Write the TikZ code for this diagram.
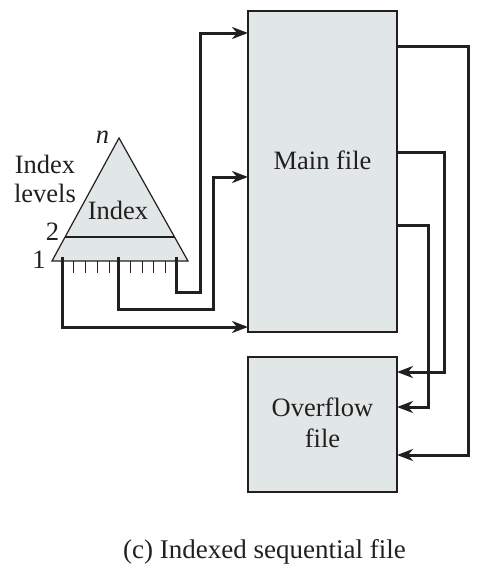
\documentclass[tikz,border=0pt]{standalone}
\usepackage{fontspec}
\setmainfont{Liberation Serif}
\usetikzlibrary{arrows.meta}
\definecolor{boxfill}{HTML}{E1E7E7}
\definecolor{ink}{HTML}{231F20}
\tikzset{
  filebox/.style={draw=ink, fill=boxfill, line width=1.5pt, inner sep=0pt, outer sep=0pt, anchor=north west},
  conn/.style={draw=ink, line width=3pt, -{Stealth[length=16pt,width=12pt,inset=5pt]}},
  plainconn/.style={draw=ink, line width=3pt},
  tick/.style={draw=ink, line width=1pt},
  lbl/.style={font=\fontsize{26.5}{30}\selectfont, inner sep=0pt, text=ink},
}
\begin{document}
\begin{tikzpicture}[x=1pt,y=-1pt]
\useasboundingbox (0,0) rectangle (494,570);
% boxes
\node[filebox, minimum width=149pt, minimum height=321pt] (main) at (248,11) {};
\node[filebox, minimum width=149pt, minimum height=135pt] (over) at (248,357) {};
\node[lbl, anchor=base] (maintxt) at (322.5,169) {Main file};
\node[lbl, align=center, font=\fontsize{26.5}{31}\selectfont] (overtxt) at (322.5,423) {Overflow\\file};
% triangle
\coordinate (apex) at (119,138);
\coordinate (bl) at (52,261);
\coordinate (br) at (188,261);
\filldraw[fill=boxfill, draw=ink, line width=1.2pt] (apex) -- (bl) -- (br) -- cycle;
\coordinate (l2a) at (65,237);
\coordinate (l2b) at (174.5,237);
\draw[ink, line width=2pt] (l2a) -- (l2b);
\foreach \x in {73,85,97,109,130,142,153,165}{
  \draw[tick] (\x,261) -- (\x,273);
}
\node[lbl, anchor=base] (idx) at (118,219) {Index};
\node[lbl, align=center, font=\fontsize{26.5}{29}\selectfont] (levels) at (45,179) {Index\\levels};
\node[lbl, anchor=base] (ntxt) at (102.5,143) {\itshape n};
\node[lbl, anchor=base] (two) at (52.5,240) {2};
\node[lbl, anchor=base] (one) at (39,268) {1};
% pointers from index
\coordinate (p1) at (62,257);
\coordinate (p2) at (118,257);
\coordinate (p3) at (176,257);
\draw[conn] (p1) -- (62,327) -- (main.west |- 0,327);
\draw[conn] (p2) -- (118,309) -- (213,309) -- (213,177) -- (main.west |- 0,177);
\draw[conn] (p3) -- (176,292) -- (200,292) -- (200,33) -- (main.west |- 0,33);
% main to overflow
\draw[conn] (main.east |- 0,46) -- (468,46) -- (468,455) -- (over.east |- 0,455);
\draw[conn] (main.east |- 0,152) -- (444,152) -- (444,372) -- (over.east |- 0,372);
\draw[conn] (main.east |- 0,225) -- (428,225) -- (428,407) -- (over.east |- 0,407);
% caption
\node[lbl, anchor=base, font=\fontsize{27}{30}\selectfont] (cap) at (264.5,558) {(c) Indexed sequential file};
\end{tikzpicture}
\end{document}
